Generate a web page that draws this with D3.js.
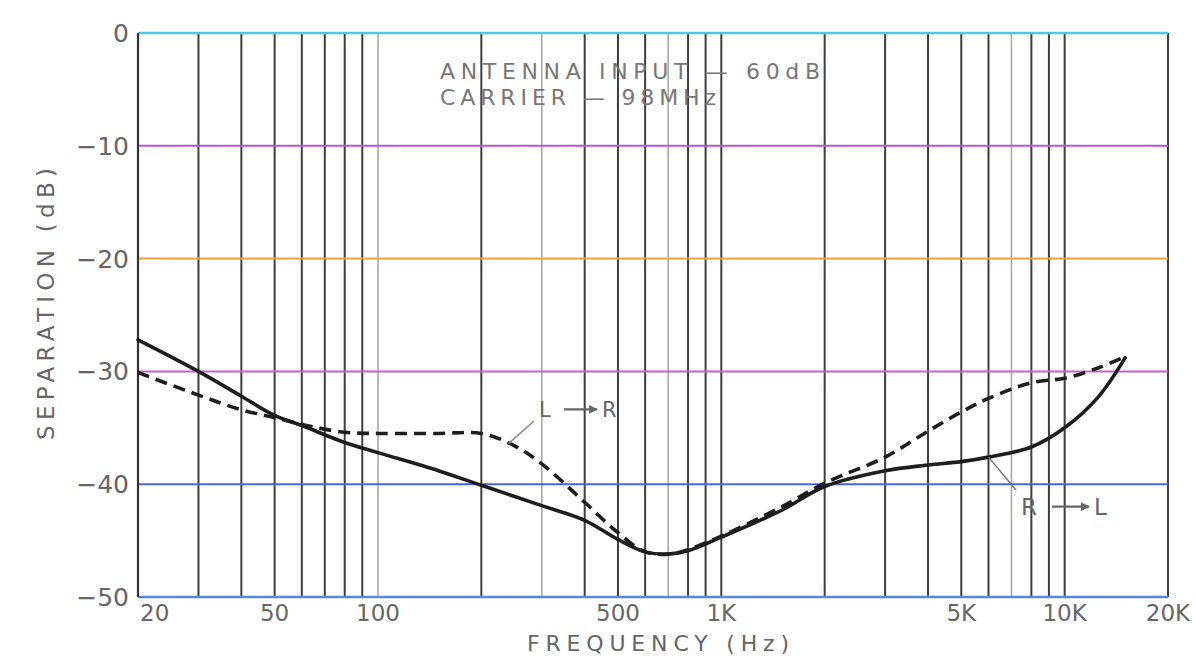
<!DOCTYPE html>
<html>
<head>
<meta charset="utf-8">
<script src="https://cdn.jsdelivr.net/npm/d3@7"></script>
<style>
  html, body { margin: 0; padding: 0; background: #fff; }
  svg text { font-family: "DejaVu Sans", "Liberation Sans", Arial, sans-serif; }
</style>
</head>
<body>
<svg id="chart" width="1196" height="667"></svg>
<script>
// ---- data ----
const freqRL = [20, 30, 40, 50, 60, 80, 100, 150, 200, 300, 400, 500, 600, 700, 800, 1000, 1500, 2000, 3000, 4000, 5000, 6000, 8000, 10000, 12500, 15000];
const sepRL  = [-27.2, -30.0, -32.2, -33.9, -34.8, -36.3, -37.2, -38.8, -40.1, -41.9, -43.2, -44.9, -46.0, -46.2, -45.9, -44.7, -42.3, -40.2, -38.8, -38.3, -38.0, -37.6, -36.7, -35.0, -32.3, -28.8];

const freqLR = [20, 30, 40, 50, 60, 80, 100, 150, 200, 250, 300, 400, 500, 600, 700, 800, 1000, 1500, 2000, 3000, 4000, 5000, 6000, 8000, 10000, 12500, 15000];
const sepLR  = [-30.1, -32.1, -33.4, -34.1, -34.7, -35.4, -35.5, -35.5, -35.5, -36.6, -38.2, -41.6, -44.3, -46.0, -46.2, -45.8, -44.6, -42.0, -39.9, -37.6, -35.3, -33.6, -32.4, -31.0, -30.6, -29.7, -28.7];

const yTicks = [0, -10, -20, -30, -40, -50];
const yTickLabels = ["0", "\u221210", "\u221220", "\u221230", "\u221240", "\u221250"];
const gridFreqs = [20, 30, 40, 50, 60, 70, 80, 90, 100, 200, 300, 400, 500, 600, 700, 800, 900, 1000, 2000, 3000, 4000, 5000, 6000, 7000, 8000, 9000, 10000, 20000];
const lightFreqs = [100, 300, 700, 7000];
const xTickValues = [20, 50, 100, 500, 1000, 5000, 10000, 20000];
const xTickLabels = ["20", "50", "100", "500", "1K", "5K", "10K", "20K"];
const legendLines = ["ANTENNA INPUT \u2014 60dB", "CARRIER \u2014 98MHz"];

// ---- styles ----
const hColors = ["#49c9e3", "#c052d8", "#eea43a", "#d05ccc", "#4b63dd", "#5a86e0"];
const textColor = "#666";

const svg = d3.select("#chart");
const x = d3.scaleLog().domain([20, 20000]).range([138, 1168]);
const y = d3.scaleLinear().domain([0, -50]).range([33, 597]);

svg.append("defs").append("marker")
  .attr("id", "ah").attr("viewBox", "0 0 10 10").attr("refX", 9).attr("refY", 5)
  .attr("markerWidth", 4).attr("markerHeight", 4).attr("orient", "auto")
  .append("path").attr("d", "M0,0 L10,5 L0,10 z").attr("fill", "#666");

// vertical grid
svg.append("g").selectAll("line").data(gridFreqs).join("line")
  .attr("x1", d => x(d)).attr("x2", d => x(d))
  .attr("y1", y(0)).attr("y2", y(-50))
  .attr("stroke", d => lightFreqs.includes(d) ? "#a8a8a8" : "#3e3e3e")
  .attr("stroke-width", d => lightFreqs.includes(d) ? 1.6 : 2);

// horizontal coloured grid
svg.append("g").selectAll("line").data(yTicks).join("line")
  .attr("x1", x(20)).attr("x2", x(20000))
  .attr("y1", d => y(d)).attr("y2", d => y(d))
  .attr("stroke", (d, i) => hColors[i])
  .attr("stroke-width", (d, i) => i === 0 || i === 5 ? 2.6 : 2);

// left axis line
svg.append("line").attr("x1", x(20)).attr("x2", x(20))
  .attr("y1", y(0)).attr("y2", y(-50)).attr("stroke", "#333").attr("stroke-width", 2.2);

// y tick labels
svg.append("g").selectAll("text").data(yTicks).join("text")
  .attr("x", 129).attr("y", d => y(d) + 9)
  .attr("text-anchor", "end").attr("font-size", 25)
  .attr("fill", textColor)
  .text((d, i) => yTickLabels[i]);

// x tick labels
svg.append("g").selectAll("text").data(xTickValues).join("text")
  .attr("x", (d, i) => i === 0 ? x(d) + 2 : x(d))
  .attr("y", 621)
  .attr("text-anchor", (d, i) => i === 0 ? "start" : "middle")
  .attr("font-size", 23)
  .attr("fill", textColor)
  .text((d, i) => xTickLabels[i]);

// axis titles
svg.append("text").attr("x", 658).attr("y", 651)
  .attr("text-anchor", "middle").attr("font-size", 22)
  .attr("textLength", 262).attr("lengthAdjust", "spacing")
  .attr("fill", textColor).text("FREQUENCY (Hz)");

svg.append("text").attr("transform", "translate(54,304) rotate(-90)")
  .attr("text-anchor", "middle").attr("font-size", 23)
  .attr("textLength", 272).attr("lengthAdjust", "spacing")
  .attr("fill", textColor).text("SEPARATION (dB)");

// legend text
svg.append("g").selectAll("text").data(legendLines).join("text")
  .attr("x", 440).attr("y", (d, i) => 79 + i * 26)
  .attr("font-size", 22)
  .attr("textLength", (d, i) => i === 0 ? 380 : 276)
  .attr("lengthAdjust", "spacing")
  .attr("fill", "#777")
  .text(d => d);

// curves
const line = d3.line().x(d => x(d[0])).y(d => y(d[1])).curve(d3.curveCatmullRom.alpha(0.5));
const rl = freqRL.map((f, i) => [f, sepRL[i]]);
const lr = freqLR.map((f, i) => [f, sepLR[i]]);

svg.append("path").attr("d", line(rl)).attr("fill", "none")
  .attr("stroke", "#1e1e1e").attr("stroke-width", 3.6).attr("stroke-linecap", "round");
svg.append("path").attr("d", line(lr)).attr("fill", "none")
  .attr("stroke", "#1e1e1e").attr("stroke-width", 3.6)
  .attr("stroke-dasharray", "12,7");

// curve labels with leader lines and arrows
function curveLabel(a, b, x0, base, ax0, ax1, size) {
  svg.append("text").attr("x", x0).attr("y", base).attr("font-size", size)
    .attr("fill", textColor).text(a);
  svg.append("line").attr("x1", ax0).attr("x2", ax1)
    .attr("y1", base - size * 0.36).attr("y2", base - size * 0.36)
    .attr("stroke", "#666").attr("stroke-width", 2.2).attr("marker-end", "url(#ah)");
  svg.append("text").attr("x", ax1 + 5).attr("y", base).attr("font-size", size)
    .attr("fill", textColor).text(b);
}
svg.append("line").attr("x1", x(240)).attr("y1", y(-36.4)).attr("x2", 534).attr("y2", 421)
  .attr("stroke", "#888").attr("stroke-width", 1.5);
curveLabel("L", "R", 539, 417, 564, 597, 21);

svg.append("line").attr("x1", x(6000)).attr("y1", y(-37.6)).attr("x2", 1016).attr("y2", 490)
  .attr("stroke", "#777").attr("stroke-width", 1.5);
curveLabel("R", "L", 1021, 515, 1052, 1089, 23);
</script>
</body>
</html>
